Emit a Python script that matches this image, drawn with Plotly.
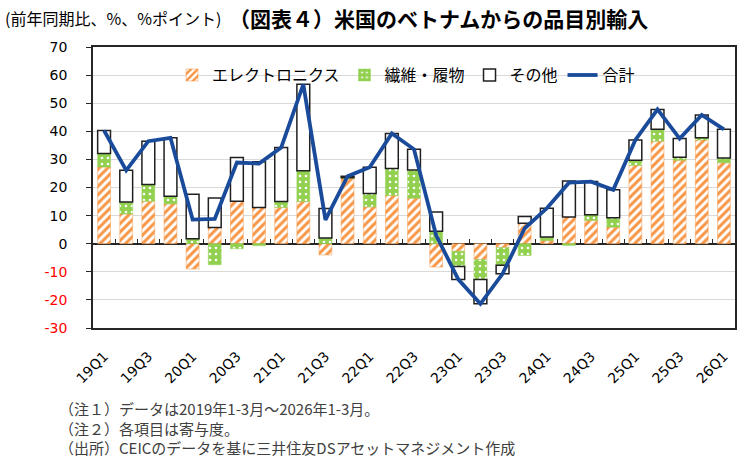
import plotly.graph_objects as go

quarters = ["19Q1","19Q2","19Q3","19Q4","20Q1","20Q2","20Q3","20Q4",
            "21Q1","21Q2","21Q3","21Q4","22Q1","22Q2","22Q3","22Q4",
            "23Q1","23Q2","23Q3","23Q4","24Q1","24Q2","24Q3","24Q4",
            "25Q1","25Q2","25Q3","25Q4","26Q1"]
electronics = [27.3, 10.6, 15.1, 14.2, -9.0, 5.8, 15.1, 12.9,
               12.9, 15.0, -4.0, 23.2, 13.1, 17.2, 16.2, -8.3,
               -2.7, -5.6, -1.4, 7.3, 1.1, 9.5, 8.3, 5.9,
               27.9, 36.5, 29.7, 36.9, 28.8]
textiles = [4.8, 4.2, 6.0, 2.7, 1.8, -7.5, -1.8, -0.7,
            2.1, 11.0, 2.0, 0.3, 4.8, 9.6, 10.0, 4.4,
            -5.4, -7.1, -6.3, -4.2, 1.3, -0.6, 2.0, 3.3,
            1.8, 4.2, 1.1, 0.8, 1.7]
others = [8.2, 11.3, 15.4, 20.8, 15.8, 10.5, 15.6, 16.3,
          19.2, 30.7, 10.5, 0.5, 9.3, 12.4, 7.4, 6.9,
          -4.6, -8.7, -3.0, 2.4, 10.2, 12.8, 11.8, 10.0,
          7.2, 7.1, 6.6, 8.1, 10.2]
total = [40.3, 26.1, 36.5, 37.7, 8.6, 8.8, 28.9, 28.5,
         34.2, 56.7, 8.5, 24.0, 27.2, 39.2, 33.6, 3.0,
         -12.7, -21.4, -10.7, 5.5, 12.6, 21.7, 22.1, 19.2,
         36.9, 47.8, 37.4, 45.8, 40.7]
xtick_labels = quarters[::2]
ytick_vals = list(range(-30, 80, 10))

JP = "Noto Sans CJK JP"
NUM = "DejaVu Sans"
ORANGE = "#F79646"
GREEN = "#92D050"
NAVY = "#1A4B9B"

fig = go.Figure()
fig.add_trace(go.Bar(
    x=quarters, y=electronics, name="エレクトロニクス",
    marker=dict(color=ORANGE, line=dict(color=ORANGE, width=0.5),
                pattern=dict(shape="/", fgcolor=ORANGE, bgcolor="white",
                             size=6, solidity=0.5, fillmode="replace")),
))
fig.add_trace(go.Bar(
    x=quarters, y=textiles, name="繊維・履物",
    marker=dict(color=GREEN, line=dict(color=GREEN, width=0.5),
                pattern=dict(shape=".", fgcolor="white", bgcolor=GREEN,
                             size=6, solidity=0.15, fillmode="replace")),
))
fig.add_trace(go.Bar(
    x=quarters, y=others, name="その他",
    marker=dict(color="white", line=dict(color="#202020", width=1.5)),
))
fig.add_trace(go.Scatter(
    x=list(range(len(quarters))), y=total, name="合計", xaxis="x2",
    mode="lines", line=dict(color=NAVY, width=3.8),
))

def ylab(v):
    if v < 0:
        return f'<span style="color:#FF0000">{v}</span>'
    return str(v)

fig.update_layout(
    width=756, height=465,
    margin=dict(l=93, r=21, t=47, b=137),
    paper_bgcolor="white", plot_bgcolor="white",
    barmode="relative", bargap=0.42,
    font=dict(family=JP, size=14, color="#000000"),
    showlegend=True,
    legend=dict(orientation="h", x=0.4875, xanchor="center", y=0.90, yanchor="middle",
                bgcolor="rgba(0,0,0,0)", font=dict(family=JP, size=16),
                traceorder="normal", itemwidth=30),
    xaxis=dict(type="category", categoryorder="array", categoryarray=quarters,
               range=[-0.5, len(quarters) - 0.5],
               tickmode="array", tickvals=xtick_labels, ticktext=xtick_labels,
               tickangle=-45, ticks="", ticklabelstandoff=13,
               tickfont=dict(family=NUM, size=14, color="#000000"),
               showline=True, linecolor="#262626", linewidth=1.5, mirror=True,
               showgrid=False, zeroline=False),
    xaxis2=dict(overlaying="x", anchor="free", position=0.3, side="bottom",
                range=[-0.5, len(quarters) - 0.5],
                tickmode="array", tickvals=[i - 0.5 for i in range(len(quarters) + 1)],
                ticks="inside", ticklen=5, tickwidth=1, tickcolor="#262626",
                showticklabels=False, showline=False, showgrid=False, zeroline=False),
    yaxis=dict(range=[-30, 70], tickmode="array", tickvals=ytick_vals,
               ticktext=[ylab(v) for v in ytick_vals],
               ticks="outside", ticklen=5, tickcolor="#262626", ticklabelstandoff=16,
               tickfont=dict(family=NUM, size=14, color="#000000"),
               showline=True, linecolor="#262626", linewidth=1.5, mirror=True,
               showgrid=True, gridcolor="#D9D9D9", gridwidth=1,
               zeroline=True, zerolinecolor="#262626", zerolinewidth=1.5),
)

annotations = [
    dict(text="(前年同期比、%、%ポイント)", x=-0.140, y=1.103, xanchor="left", yanchor="middle",
         font=dict(family=JP, size=16, color="#000000")),
    dict(text="<b>（図表４）米国のベトナムからの品目別輸入</b>", x=0.208, y=1.103,
         xanchor="left", yanchor="middle", font=dict(family=JP, size=21, color="#000000")),
    dict(text="（注１）データは2019年1-3月～2026年1-3月。", x=-0.056, y=-0.285,
         xanchor="left", yanchor="middle", font=dict(family=JP, size=15, color="#404040")),
    dict(text="（注２）各項目は寄与度。", x=-0.056, y=-0.356,
         xanchor="left", yanchor="middle", font=dict(family=JP, size=15, color="#404040")),
    dict(text="（出所）CEICのデータを基に三井住友DSアセットマネジメント作成", x=-0.056, y=-0.427,
         xanchor="left", yanchor="middle", font=dict(family=JP, size=15, color="#404040")),
]
for a in annotations:
    a.update(xref="paper", yref="paper", showarrow=False)
fig.update_layout(annotations=annotations)

fig.write_html("out.html")
